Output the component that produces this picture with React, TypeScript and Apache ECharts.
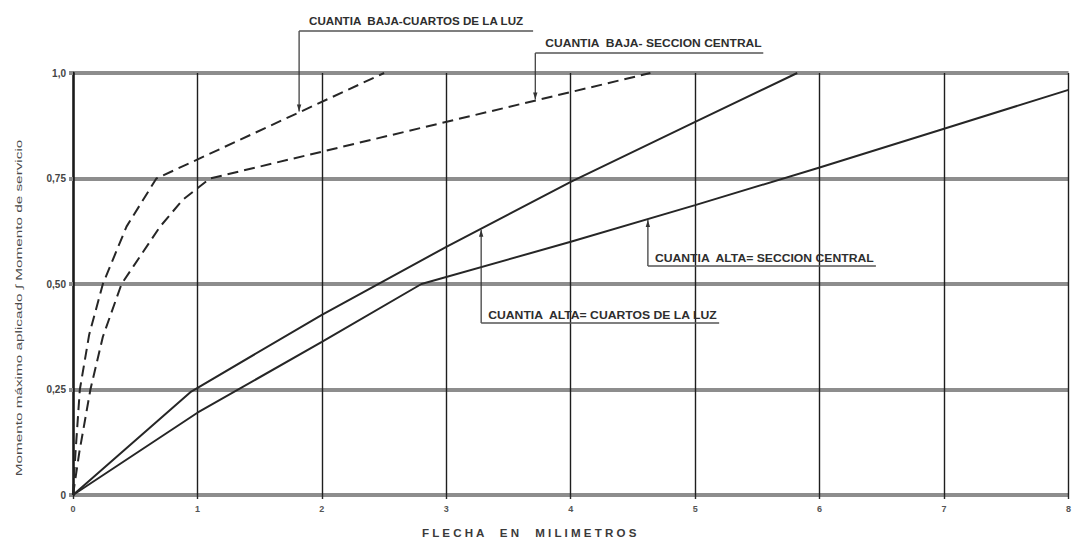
import React, { useEffect, useRef } from "react";
import * as echarts from "echarts";

// Axis ticks and their printed labels
const xTicks = [0, 1, 2, 3, 4, 5, 6, 7, 8];
const xTickLabels = ["0", "1", "2", "3", "4", "5", "6", "7", "8"];
const yTicks = [0, 0.25, 0.5, 0.75, 1];
const yTickLabels = ["0", "0,25", "0,50", "0,75", "1,0"];

// Deflection (mm) vs. applied moment ratio
const bajaCuartos: [number, number][] = [
  [0, 0], [0.02, 0.1], [0.055, 0.25], [0.13, 0.38], [0.24, 0.5],
  [0.43, 0.636], [0.67, 0.75], [2.5, 1.0],
];
const bajaCentral: [number, number][] = [
  [0, 0], [0.05, 0.1], [0.14, 0.25], [0.24, 0.375], [0.39, 0.5],
  [0.7, 0.636], [0.88, 0.699], [1.1, 0.75], [4.64, 1.0],
];
const altaCuartos: [number, number][] = [
  [0, 0], [0.95, 0.245], [2, 0.427], [3, 0.588], [4, 0.742], [5, 0.884], [5.82, 1.0],
];
const altaCentral: [number, number][] = [
  [0, 0], [1, 0.195], [2, 0.363], [2.8, 0.5], [4, 0.6], [5, 0.687],
  [6, 0.776], [7, 0.868], [8, 0.96],
];

const seriesNames = [
  "CUANTIA BAJA-CUARTOS DE LA LUZ",
  "CUANTIA BAJA-SECCION CENTRAL",
  "CUANTIA ALTA-CUARTOS DE LA LUZ",
  "CUANTIA ALTA-SECCION CENTRAL",
];

// Callout labels: leader drops/rises from an underlined caption to its curve
const callouts = [
  { text: "CUANTIA  BAJA-CUARTOS DE LA LUZ", data: bajaCuartos, atX: 1.817, lineY: 31, textDx: 10, textW: 215, textY: 21, lineLen: 234 },
  { text: "CUANTIA  BAJA- SECCION CENTRAL", data: bajaCentral, atX: 3.715, lineY: 53, textDx: 10, textW: 217, textY: 43, lineLen: 228 },
  { text: "CUANTIA  ALTA= SECCION CENTRAL", data: altaCentral, atX: 4.62, lineY: 266, textDx: 7, textW: 220, textY: 258, lineLen: 228 },
  { text: "CUANTIA  ALTA= CUARTOS DE LA LUZ", data: altaCuartos, atX: 3.28, lineY: 323, textDx: 7, textW: 230, textY: 315, lineLen: 238 },
];

const yTitle = "Momento máximo aplicado ∫ Momento de servicio";
const xTitle = "F L E C H A     E N     M I L I M E T R O S";

function yAt(data: [number, number][], x: number): number {
  for (let i = 1; i < data.length; i++) {
    const [x0, y0] = data[i - 1];
    const [x1, y1] = data[i];
    if (x >= x0 && x <= x1) return y0 + ((x - x0) / (x1 - x0)) * (y1 - y0);
  }
  return data[data.length - 1][1];
}

function measure(text: string, font: string): number {
  const c = document.createElement("canvas").getContext("2d");
  if (!c) return text.length * 6;
  c.font = font;
  return c.measureText(text).width;
}

const INK = "#262626";

export default function App() {
  const ref = useRef<HTMLDivElement>(null);

  useEffect(() => {
    if (!ref.current) return;
    const chart = echarts.init(ref.current, undefined, { renderer: "svg" });

    const lineSeries = (name: string, data: [number, number][], dashed: boolean) => ({
      name,
      type: "line",
      data,
      showSymbol: false,
      symbol: "none",
      silent: true,
      z: 5,
      lineStyle: { color: INK, width: 2, type: dashed ? [11, 6] : "solid" },
    });

    chart.setOption({
      animation: false,
      backgroundColor: "#ffffff",
      grid: { left: 73, right: 1, top: 73, bottom: 49 },
      xAxis: {
        type: "value",
        min: 0,
        max: 8,
        interval: 1,
        axisLine: { show: false },
        axisTick: { show: true, length: 4, lineStyle: { color: INK, width: 1.4 } },
        axisLabel: {
          margin: 9,
          fontSize: 9,
          fontWeight: "bold",
          color: "#555",
          fontFamily: "Liberation Sans",
          formatter: (v: number) => xTickLabels[xTicks.indexOf(v)] ?? "",
        },
        splitLine: { show: true, lineStyle: { color: "#1e1e1e", width: 1.4 } },
      },
      yAxis: {
        type: "value",
        min: 0,
        max: 1,
        interval: 0.25,
        axisLine: { show: true, lineStyle: { color: "#1a1a1a", width: 2.5 } },
        axisTick: { show: true, length: 4, lineStyle: { color: "#8d8d8d", width: 4 } },
        axisLabel: {
          margin: 7,
          fontSize: 10,
          fontWeight: "bold",
          color: "#444",
          fontFamily: "Liberation Sans",
          formatter: (v: number) => yTickLabels[yTicks.indexOf(v)] ?? "",
        },
        splitLine: { show: true, lineStyle: { color: "#8d8d8d", width: 4 } },
      },
      series: [
        lineSeries(seriesNames[0], bajaCuartos, true),
        lineSeries(seriesNames[1], bajaCentral, true),
        lineSeries(seriesNames[2], altaCuartos, false),
        lineSeries(seriesNames[3], altaCentral, false),
      ],
    });

    const graphics: any[] = [];
    const calloutFont = 'bold 11px "Liberation Sans"';
    callouts.forEach((c) => {
      const tipY = yAt(c.data, c.atX);
      const [px, py] = chart.convertToPixel({ gridIndex: 0 }, [c.atX, tipY]) as number[];
      const down = py > c.lineY;
      const tip = down ? py - 1 : py + 1;
      graphics.push({
        type: "line",
        silent: true,
        z: 10,
        shape: { x1: px, y1: c.lineY, x2: px, y2: tip },
        style: { stroke: "#333", lineWidth: 1.2 },
      });
      graphics.push({
        type: "polygon",
        silent: true,
        z: 10,
        shape: {
          points: down
            ? [[px - 2.2, tip - 7], [px + 2.2, tip - 7], [px, tip]]
            : [[px - 2.2, tip + 7], [px + 2.2, tip + 7], [px, tip]],
        },
        style: { fill: "#333" },
      });
      graphics.push({
        type: "line",
        silent: true,
        z: 10,
        shape: { x1: px, y1: c.lineY, x2: px + c.lineLen, y2: c.lineY },
        style: { stroke: "#555", lineWidth: 1.6 },
      });
      const w = measure(c.text, calloutFont);
      graphics.push({
        type: "text",
        silent: true,
        z: 10,
        x: px + c.textDx,
        y: c.textY,
        scaleX: c.textW / w,
        style: {
          text: c.text,
          font: calloutFont,
          fill: "#2e2e2e",
          textAlign: "left",
          align: "left",
          textVerticalAlign: "middle",
          verticalAlign: "middle",
        },
      });
    });

    const yFont = '9px "Liberation Sans"';
    graphics.push({
      type: "text",
      silent: true,
      x: 19,
      y: 308,
      rotation: Math.PI / 2,
      scaleX: 337 / measure(yTitle, yFont),
      style: {
        text: yTitle,
        font: yFont,
        fill: "#4a4a4a",
        textAlign: "center",
        align: "center",
        textVerticalAlign: "middle",
        verticalAlign: "middle",
      },
    });

    const xFont = 'bold 10px "Liberation Sans"';
    graphics.push({
      type: "text",
      silent: true,
      x: 422,
      y: 533,
      scaleX: 216 / measure(xTitle, xFont),
      style: {
        text: xTitle,
        font: xFont,
        fill: "#3a3a3a",
        textAlign: "left",
        align: "left",
        textVerticalAlign: "middle",
        verticalAlign: "middle",
      },
    });

    chart.setOption({ graphic: graphics });

    return () => chart.dispose();
  }, []);

  return (
    <div
      ref={ref}
      style={{ position: "fixed", left: 0, top: 0, width: 1074, height: 544, background: "#fff" }}
    />
  );
}
